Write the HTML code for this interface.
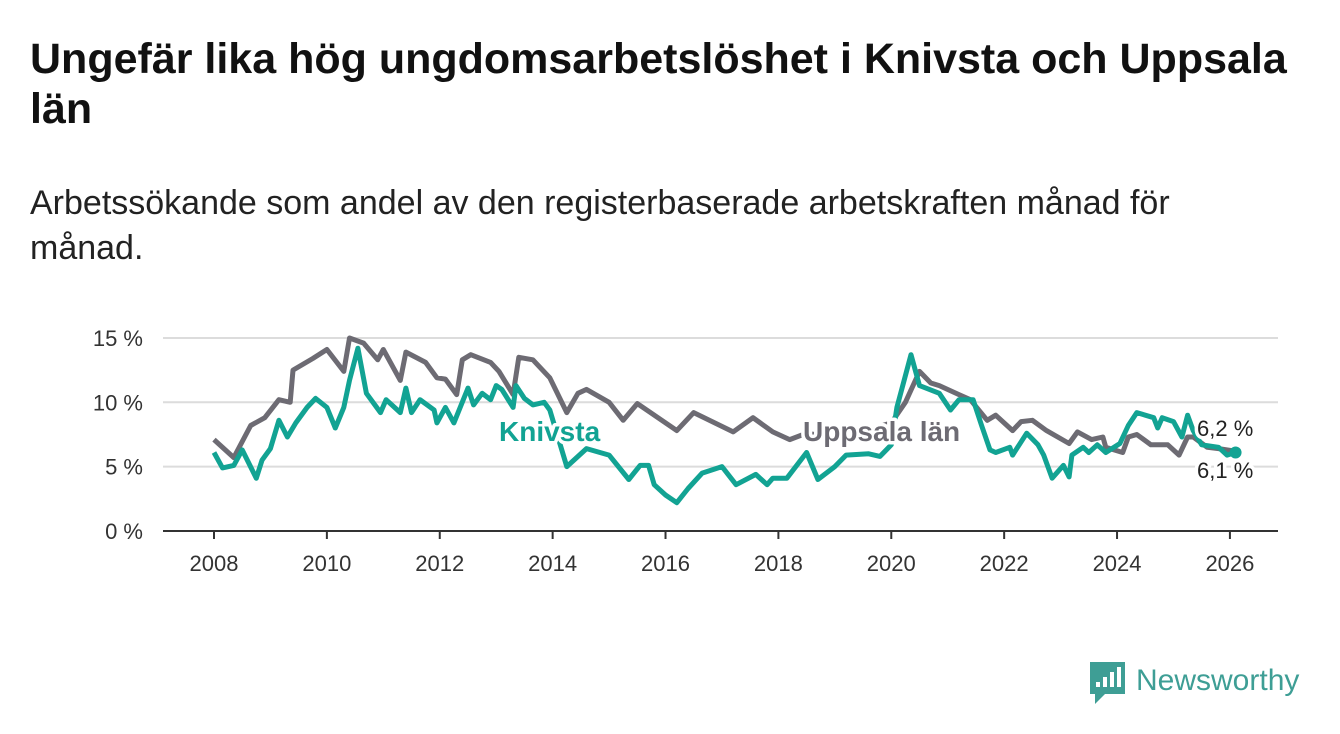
<!DOCTYPE html>
<html><head><meta charset="utf-8"><style>
body{margin:0;width:1340px;height:734px;background:#fff;font-family:"Liberation Sans",sans-serif;overflow:hidden;position:relative}
h1{position:absolute;left:30px;top:34px;width:1290px;margin:0;font-size:43px;line-height:50px;font-weight:bold;color:#111}
p{position:absolute;left:30px;top:181px;width:1200px;margin:0;font-size:34px;line-height:45px;color:#222}
svg{position:absolute;left:0;top:0}
</style></head><body>
<h1>Ungefär lika hög ungdomsarbetslöshet i Knivsta och Uppsala län</h1>
<p>Arbetssökande som andel av den registerbaserade arbetskraften månad för månad.</p>
<svg id="chart" width="1340" height="734"></svg>
<script>
const yTicks=[0,5,10,15];
const yTickLabels=["0 %","5 %","10 %","15 %"];
const xTicks=[2008,2010,2012,2014,2016,2018,2020,2022,2024,2026];
const uppsalaYears=[2008.0,2008.35,2008.65,2008.9,2009.15,2009.35,2009.4,2009.75,2010.0,2010.3,2010.4,2010.65,2010.9,2011.0,2011.3,2011.4,2011.75,2011.95,2012.1,2012.3,2012.4,2012.55,2012.9,2013.05,2013.3,2013.4,2013.65,2013.95,2014.25,2014.45,2014.6,2015.0,2015.25,2015.5,2016.2,2016.5,2017.2,2017.55,2017.9,2018.2,2018.5,2018.8,2019.1,2019.4,2019.7,2020.0,2020.25,2020.5,2020.7,2020.85,2021.2,2021.4,2021.7,2021.85,2022.15,2022.3,2022.5,2022.75,2023.15,2023.3,2023.55,2023.75,2023.8,2024.1,2024.2,2024.35,2024.6,2024.9,2025.1,2025.25,2025.35,2025.6,2025.8,2026.1];
const uppsalaValues=[7.1,5.7,8.2,8.8,10.2,10.0,12.5,13.4,14.1,12.4,15.0,14.6,13.3,14.1,11.7,13.9,13.1,11.9,11.8,10.6,13.3,13.7,13.1,12.4,10.6,13.5,13.3,11.9,9.2,10.7,11.0,10.0,8.6,9.9,7.8,9.2,7.7,8.8,7.7,7.1,7.6,7.4,7.6,7.8,8.0,8.4,10.0,12.4,11.5,11.3,10.6,10.2,8.6,9.0,7.8,8.5,8.6,7.8,6.8,7.7,7.1,7.3,6.5,6.1,7.3,7.5,6.7,6.7,5.9,7.3,7.3,6.5,6.4,6.2];
const knivstaYears=[2008.0,2008.15,2008.35,2008.5,2008.75,2008.85,2009.0,2009.15,2009.3,2009.45,2009.65,2009.8,2010.0,2010.15,2010.3,2010.4,2010.55,2010.7,2010.95,2011.05,2011.3,2011.4,2011.5,2011.65,2011.9,2011.95,2012.1,2012.25,2012.5,2012.6,2012.75,2012.9,2013.0,2013.1,2013.3,2013.35,2013.5,2013.65,2013.85,2013.95,2014.25,2014.6,2015.0,2015.35,2015.55,2015.7,2015.8,2016.0,2016.2,2016.4,2016.65,2017.0,2017.25,2017.6,2017.8,2017.9,2018.15,2018.5,2018.7,2019.0,2019.2,2019.6,2019.8,2020.0,2020.1,2020.35,2020.5,2020.85,2021.05,2021.2,2021.45,2021.6,2021.75,2021.85,2022.1,2022.15,2022.4,2022.6,2022.7,2022.85,2023.05,2023.15,2023.2,2023.4,2023.5,2023.65,2023.8,2024.05,2024.2,2024.35,2024.65,2024.72,2024.8,2025.0,2025.15,2025.25,2025.35,2025.5,2025.8,2025.95,2026.1];
const knivstaValues=[6.1,4.9,5.1,6.3,4.1,5.5,6.4,8.6,7.3,8.4,9.6,10.3,9.6,8.0,9.6,11.7,14.2,10.7,9.2,10.2,9.2,11.1,9.2,10.2,9.4,8.4,9.6,8.4,11.1,9.8,10.7,10.2,11.3,11.0,9.6,11.3,10.3,9.8,10.0,9.4,5.0,6.4,5.9,4.0,5.1,5.1,3.6,2.8,2.2,3.3,4.5,5.0,3.6,4.4,3.6,4.1,4.1,6.1,4.0,5.0,5.9,6.0,5.8,6.7,9.6,13.7,11.3,10.7,9.4,10.2,10.2,8.2,6.3,6.1,6.5,5.9,7.6,6.7,5.9,4.1,5.1,4.2,5.9,6.5,6.1,6.7,6.1,6.8,8.2,9.2,8.8,8.0,8.8,8.5,7.3,9.0,7.8,6.7,6.5,5.9,6.1];
const NS="http://www.w3.org/2000/svg";
const svg=document.getElementById('chart');
const X=y=>214+(y-2008)*56.44;
const Y=v=>531-v*12.87;
function mk(tag,attrs,parent){const e=document.createElementNS(NS,tag);for(const k in attrs)e.setAttribute(k,attrs[k]);(parent||svg).appendChild(e);return e;}
yTicks.forEach((t,i)=>{
  if(t>0){const g=mk('line',{x1:163,x2:1278,y1:Y(t),y2:Y(t),stroke:'#dcdcdc','stroke-width':2});
  
  }
  const l=mk('text',{x:143,y:Y(t)+8,'text-anchor':'end','font-size':22,fill:'#333'});
  l.textContent=yTickLabels[i];
  
  
});
const ax=mk('line',{x1:163,x2:1278,y1:531,y2:531,stroke:'#333','stroke-width':2});


xTicks.forEach(t=>{
  const tk=mk('line',{x1:X(t),x2:X(t),y1:531,y2:539,stroke:'#333','stroke-width':2});
  
  
  const l=mk('text',{x:X(t),y:571,'text-anchor':'middle','font-size':22,fill:'#333'});
  l.textContent=t;
  
  
});
function line(xs,vs,color,name){
  const d=xs.map((x,i)=>(i?'L':'M')+X(x).toFixed(1)+','+Y(vs[i]).toFixed(1)).join('');
  const p=mk('path',{d:d,fill:'none',stroke:color,'stroke-width':5,'stroke-linejoin':'round'});
  
  
}
line(uppsalaYears,uppsalaValues,'#6d6b73','uppsala-line');
line(knivstaYears,knivstaValues,'#12a393','knivsta-line');
const e=mk('circle',{cx:X(knivstaYears[knivstaYears.length-1]),cy:Y(knivstaValues[knivstaValues.length-1]),r:6,fill:'#12a393'});


function label(txt,x,y,color,size,weight,name){
  const t=mk('text',{x:x,y:y,fill:color,'font-size':size,'font-weight':weight,stroke:'#fff','stroke-width':7,'paint-order':'stroke','stroke-linejoin':'round'});
  t.textContent=txt;
  
  
}
label('Knivsta',499,441,'#12a393',28,'bold','knivsta-label');
label('Uppsala län',803,441,'#6d6b73',28,'bold','uppsala-label');
label('6,2 %',1197,436,'#222',22,'normal','uppsala-end-value');
label('6,1 %',1197,478,'#222',22,'normal','knivsta-end-value');
const lg=mk('g',{});


mk('path',{d:'M1090,662 h35 v32 h-20 l-10,10 v-10 h-5 z',fill:'#3e9e95'},lg);
[[1096,682,5],[1103,677,10],[1110,672,15]].forEach(b=>mk('rect',{x:b[0],y:b[1],width:4,height:b[2],fill:'#fff'},lg));
mk('rect',{x:1117,y:667,width:4,height:20,fill:'#fff'},lg);
const lt=mk('text',{x:1136,y:690,'font-size':30,fill:'#3e9e95'},lg);
lt.textContent='Newsworthy';
</script>
</body></html>
